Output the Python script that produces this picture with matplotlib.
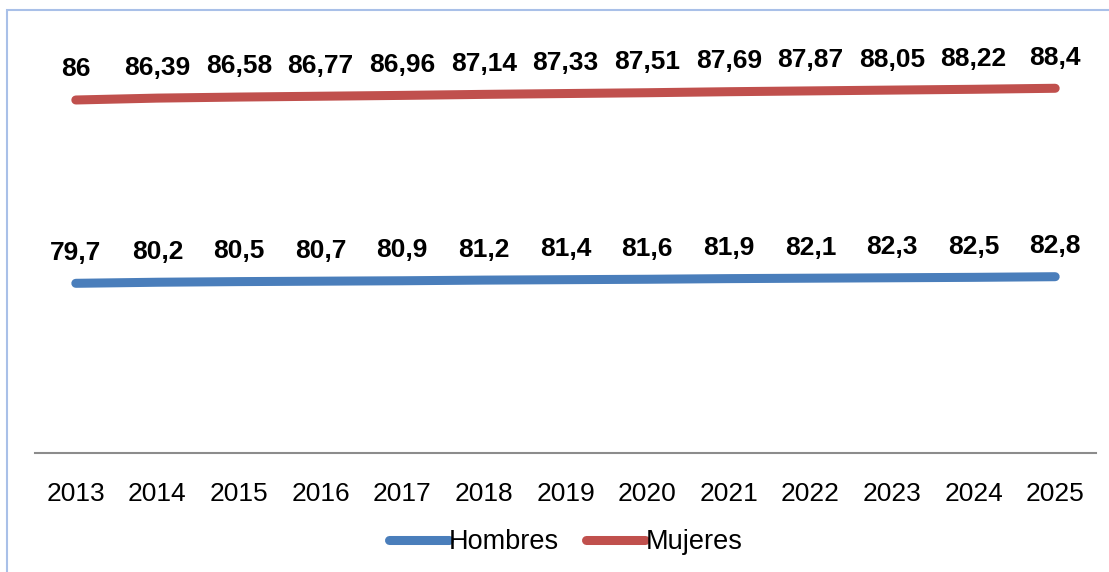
import matplotlib
matplotlib.use("Agg")
import matplotlib.pyplot as plt
from matplotlib.patches import Rectangle
import numpy as np

plt.rcParams["font.family"] = ["Liberation Sans", "DejaVu Sans"]

years = ["2013", "2014", "2015", "2016", "2017", "2018", "2019",
         "2020", "2021", "2022", "2023", "2024", "2025"]
hombres = [79.7, 80.2, 80.5, 80.7, 80.9, 81.2, 81.4, 81.6, 81.9, 82.1, 82.3, 82.5, 82.8]
mujeres = [86, 86.39, 86.58, 86.77, 86.96, 87.14, 87.33, 87.51, 87.69, 87.87, 88.05, 88.22, 88.4]
hombres_labels = ["79,7", "80,2", "80,5", "80,7", "80,9", "81,2", "81,4",
                  "81,6", "81,9", "82,1", "82,3", "82,5", "82,8"]
mujeres_labels = ["86", "86,39", "86,58", "86,77", "86,96", "87,14", "87,33",
                  "87,51", "87,69", "87,87", "88,05", "88,22", "88,4"]

# original is an Excel stacked line chart
stacked = np.cumsum(np.array([hombres, mujeres]), axis=0)
x = np.arange(len(years))

fig = plt.figure(figsize=(11.09, 5.72), dpi=100)
ax = fig.add_axes([35 / 1109, 0.2077, (1096 - 35) / 1109, 0.7453])

series = [("Hombres", stacked[0], hombres_labels, "#4A7EBB"),
          ("Mujeres", stacked[1], mujeres_labels, "#C0504D")]
for name, ys, labels, color in series:
    ax.plot(x, ys, color=color, lw=6.5, solid_capstyle="round", label=name)
    for xi, yi, lab in zip(x, ys, labels):
        ax.annotate(lab, (xi, yi), xytext=(0, 22), textcoords="offset points",
                    ha="center", va="center", fontsize=19, fontweight="bold")

ax.set_xlim(-0.5, len(years) - 0.5)
ax.set_ylim(0, 200)
ax.set_xticks(x)
ax.set_xticklabels(years, fontsize=19)
ax.tick_params(axis="x", length=0, pad=21)
ax.set_yticks([])
for side in ["top", "right", "left"]:
    ax.spines[side].set_visible(False)
ax.spines["bottom"].set_color("#8c8c8c")
ax.spines["bottom"].set_linewidth(1.5)

fig.legend(loc="center", bbox_to_anchor=(0.51, 1 - 542 / 572), ncol=2, frameon=False,
           fontsize=19.5, handlelength=2.2, handletextpad=0.0, columnspacing=1.0)

fig.add_artist(Rectangle((7 / 1109, -0.1), 1.2, 0.1 + 562 / 572, transform=fig.transFigure,
                         fill=False, edgecolor="#A9C0E8", lw=1.5))

fig.savefig("out.png", dpi=100)
